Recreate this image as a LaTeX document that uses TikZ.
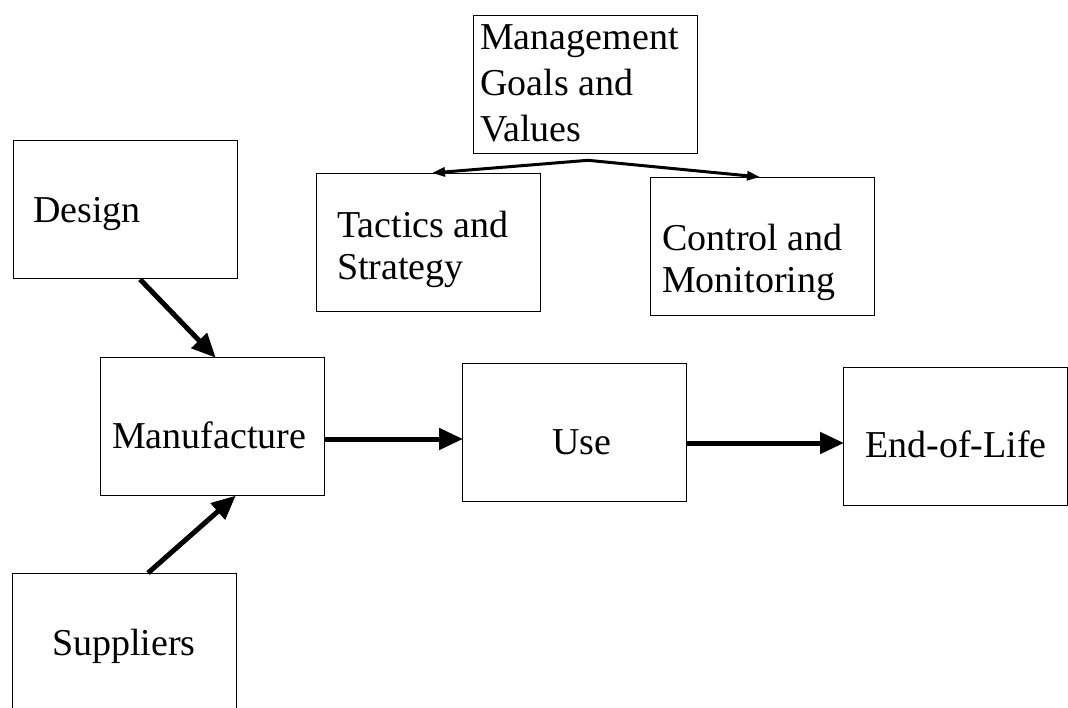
\documentclass[tikz,border=0pt]{standalone}
\usepackage{fontspec}
\setmainfont{Liberation Serif}
\usetikzlibrary{arrows.meta,calc}

\tikzset{
  box/.style={draw, line width=1.3pt, rectangle, inner sep=0pt,
              minimum width=224pt, minimum height=138pt, anchor=north west},
  label/.style={anchor=base west, inner sep=0pt,
                font=\fontsize{38}{44}\selectfont},
  flow/.style={line width=5pt, -{Triangle[length=24pt,width=21pt]}, shorten >=-1pt},
  branch/.style={line width=3pt, -{Triangle[length=13pt,width=9pt]}},
}

\begin{document}
\begin{tikzpicture}[x=1pt, y=-1pt]
  \useasboundingbox (0,0) rectangle (1068,707);
  \fill[white] (0,0) rectangle (1068,707);
  \clip (0,0) rectangle (1068,707);

  % boxes
  \node[box] (mgmt)   at (473,15)  {};
  \node[box] (tact)   at (316,173) {};
  \node[box] (ctrl)   at (650,177) {};
  \node[box] (design) at (13,140)  {};
  \node[box] (manuf)  at (100,357) {};
  \node[box] (use)    at (462,363) {};
  \node[box] (eol)    at (843,367) {};
  \node[box] (sup)    at (12,573)  {};

  % labels
  \node[label] (mgmt-a) at (480,49)  {Management};
  \node[label] (mgmt-b) at (480,95)  {Goals and};
  \node[label] (mgmt-c) at (480,141) {Values};
  \node[label] (tact-a) at (337,237) {Tactics and};
  \node[label] (tact-b) at (337,279) {Strategy};
  \node[label] (ctrl-a) at (662,250) {Control and};
  \node[label] (ctrl-b) at (662,292) {Monitoring};
  \node[label] (design-a) at (33,222)  {Design};
  \node[label] (manuf-a)  at (112,448) {Manufacture};
  \node[label] (use-a)    at (552,454) {Use};
  \node[label] (eol-a)    at (865,457) {End-of-Life};
  \node[label] (sup-a)    at (52,655)  {Suppliers};

  % management branches
  \coordinate (apex) at ($(mgmt.south west)+(115,6)$);
  \draw[branch] (apex) -- ($(tact.north west)+(116,0)$);
  \draw[branch] (apex) -- ($(ctrl.north west)+(110,0)$);

  % flow arrows
  \draw[flow] ($(design.south west)+(127,0)$) -- ($(manuf.north west)+(115,0)$);
  \draw[flow] ($(sup.north west)+(136,0)$) -- ($(manuf.south west)+(135,0)$);
  \draw[flow] ($(manuf.north east)+(0,82)$) -- ($(use.north west)+(0,76)$);
  \draw[flow] ($(use.north east)+(0,80)$) -- ($(eol.north west)+(0,76)$);
\end{tikzpicture}
\end{document}
